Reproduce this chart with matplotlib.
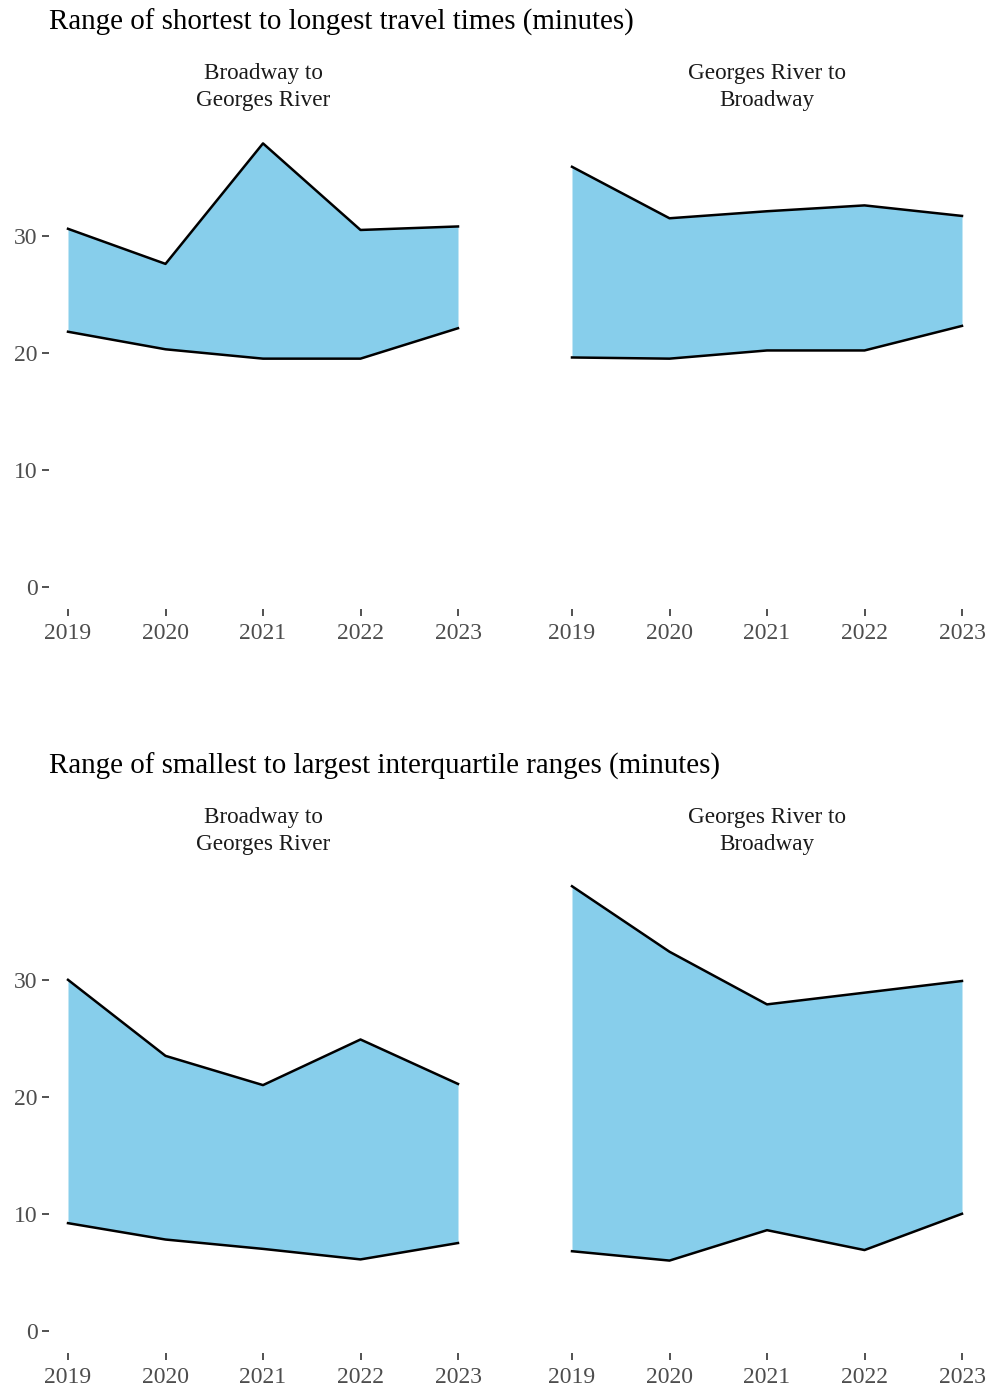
import matplotlib
matplotlib.use('Agg')
import matplotlib.pyplot as plt

plt.rcParams['font.family'] = ['Liberation Serif', 'DejaVu Serif']

years = [2019, 2020, 2021, 2022, 2023]
facets = ['Broadway to\nGeorges River', 'Georges River to\nBroadway']

# shortest / longest travel times (minutes)
tt_low_bg = [21.8, 20.3, 19.5, 19.5, 22.1]
tt_high_bg = [30.6, 27.6, 37.9, 30.5, 30.8]
tt_low_gb = [19.6, 19.5, 20.2, 20.2, 22.3]
tt_high_gb = [35.9, 31.5, 32.1, 32.6, 31.7]

# smallest / largest interquartile ranges (minutes)
iqr_low_bg = [9.2, 7.8, 7.0, 6.1, 7.5]
iqr_high_bg = [30.0, 23.5, 21.0, 24.9, 21.1]
iqr_low_gb = [6.8, 6.0, 8.6, 6.9, 10.0]
iqr_high_gb = [38.0, 32.4, 27.9, 28.9, 29.9]

titles = ['Range of shortest to longest travel times (minutes)',
          'Range of smallest to largest interquartile ranges (minutes)']

W, H = 991, 1389
fig = plt.figure(figsize=(W / 100, H / 100), dpi=100)


def px_axes(x0, y0, x1, y1):
    return fig.add_axes([x0 / W, 1 - y1 / H, (x1 - x0) / W, (y1 - y0) / H])


def draw_block(top, lows, highs, title):
    fig.text(49 / W, 1 - (top - 98) / H, title, fontsize=20.9, ha='left', va='center', color='black')
    for i, (lo, hi) in enumerate(zip(lows, highs)):
        x0 = 48.5 + i * 504
        ax = px_axes(x0, top, x0 + 429, top + 489)
        ax.fill_between(years, lo, hi, color='#87CEEB', linewidth=0)
        ax.plot(years, hi, color='black', lw=1.8)
        ax.plot(years, lo, color='black', lw=1.8)
        ax.set_xlim(2018.8, 2023.2)
        ax.set_ylim(-1.9, 39.9)
        ax.set_xticks(years)
        ax.set_xticklabels([str(y) for y in years])
        ax.set_yticks([0, 10, 20, 30])
        for s in ax.spines.values():
            s.set_visible(False)
        ax.tick_params(colors='#333333', labelcolor='#4D4D4D', labelsize=17,
                       length=5, width=1.2, pad=3)
        ax.tick_params(axis='x', pad=5)
        if i == 1:
            ax.tick_params(axis='y', left=False, labelleft=False)
        cx = (x0 + x0 + 429) / 2
        fig.text(cx / W, 1 - (top - 33) / H, facets[i], fontsize=16.7, ha='center', va='center',
                 color='#1A1A1A', linespacing=1.32)


draw_block(120, [tt_low_bg, tt_low_gb], [tt_high_bg, tt_high_gb], titles[0])
draw_block(864, [iqr_low_bg, iqr_low_gb], [iqr_high_bg, iqr_high_gb], titles[1])

fig.savefig('out.png', dpi=100)
